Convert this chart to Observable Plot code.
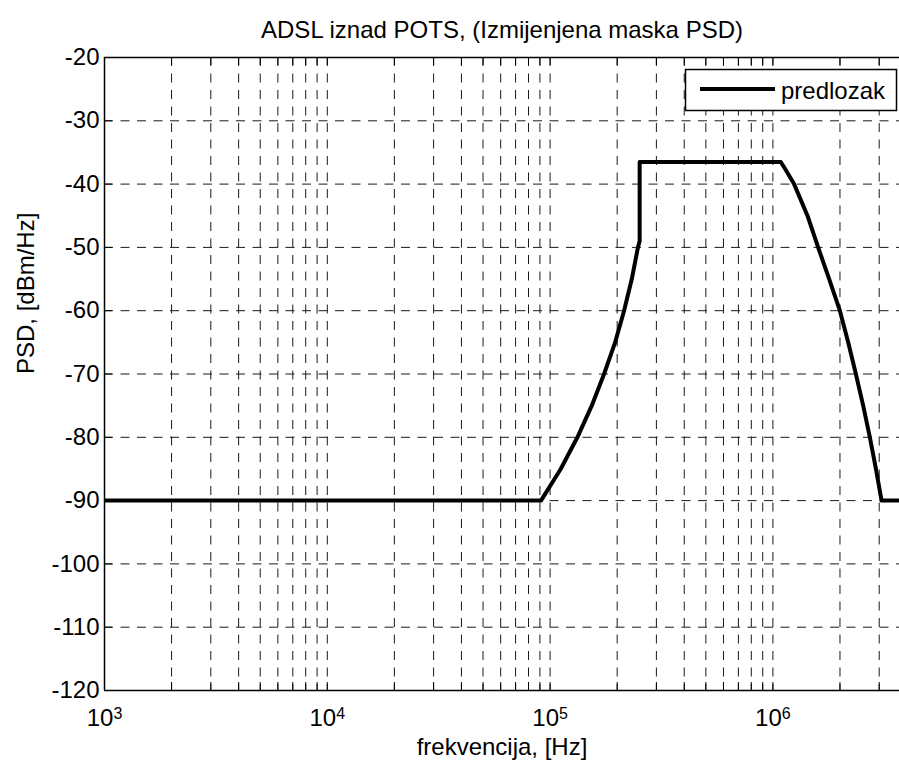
<!DOCTYPE html>
<html>
<head>
<meta charset="utf-8">
<script src="https://cdn.jsdelivr.net/npm/d3@7"></script>
<script src="https://cdn.jsdelivr.net/npm/@observablehq/plot@0.6"></script>
<style>
  html, body { margin: 0; padding: 0; background: #fff; }
  #chart { width: 899px; height: 760px; }
</style>
</head>
<body>
<div id="chart"></div>
<script>
// ---- data ----
const freqHz = [1e3, 91e3, 111.6e3, 132.6e3, 153.8e3, 174.7e3, 195.8e3, 214.8e3, 232.6e3, 247.9e3, 252.3e3, 252.3e3,
                1.085e6, 1.13e6, 1.245e6, 1.43e6, 1.596e6, 1.789e6, 1.998e6, 2.177e6, 2.357e6, 2.542e6, 2.724e6, 2.9e6, 3.074e6, 3.7e6];
const psdDbm = [-90, -90, -85, -80, -75, -70, -65, -60, -55, -50, -49, -36.5,
                -36.5, -37.5, -40, -45, -50, -55, -60, -65, -70, -75, -80, -85, -90, -90];

const xMajorTicks = [1e3, 1e4, 1e5, 1e6];
const xMajorBase = "10";
const xMajorExponents = ["3", "4", "5", "6"];
const xGridTicks = [
  1e3, 2e3, 3e3, 4e3, 5e3, 6e3, 7e3, 8e3, 9e3,
  1e4, 2e4, 3e4, 4e4, 5e4, 6e4, 7e4, 8e4, 9e4,
  1e5, 2e5, 3e5, 4e5, 5e5, 6e5, 7e5, 8e5, 9e5,
  1e6, 2e6, 3e6
];
const yTicks = [-20, -30, -40, -50, -60, -70, -80, -90, -100, -110, -120];
const xDomain = [1e3, 3.7e6];
const yDomain = [-120, -20];

const titleText = "ADSL iznad POTS, (Izmijenjena maska PSD)";
const xLabelText = "frekvencija, [Hz]";
const yLabelText = "PSD, [dBm/Hz]";
const legendLabel = "predlozak";

// ---- layout ----
const W = 899, H = 760;
const mt = 57, mb = 70, ml = 104, mr = 0;
const fw = W - ml - mr, fh = H - mt - mb;
const font = "'Liberation Sans', Arial, Helvetica, sans-serif";
const dash = "9,7.5";
const tickLen = 8;

const data = freqHz.map((f, i) => ({f, p: psdDbm[i]}));

const chart = Plot.plot({
  width: W,
  height: H,
  marginTop: mt,
  marginBottom: mb,
  marginLeft: ml,
  marginRight: mr,
  style: {fontFamily: font, fontSize: "24px", background: "#fff", color: "#000", overflow: "visible"},
  x: {type: "log", domain: xDomain},
  y: {domain: yDomain},
  marks: [
    // dashed grid
    Plot.ruleX(xGridTicks, {stroke: "#1a1a1a", strokeWidth: 1, strokeDasharray: dash}),
    Plot.ruleY(yTicks, {stroke: "#1a1a1a", strokeWidth: 1, strokeDasharray: dash}),
    // inward ticks
    Plot.tickX(xGridTicks, {insetTop: fh - tickLen, stroke: "#000", strokeWidth: 1}),
    Plot.tickX(xGridTicks, {insetBottom: fh - tickLen, stroke: "#000", strokeWidth: 1}),
    Plot.tickY(yTicks, {insetRight: fw - tickLen, stroke: "#000", strokeWidth: 1}),
    // axis lines
    Plot.ruleX([xDomain[0]], {stroke: "#000", strokeWidth: 1.5}),
    Plot.ruleY(yDomain, {stroke: "#000", strokeWidth: 1.5}),
    // the mask
    Plot.line(data, {x: "f", y: "p", stroke: "#000", strokeWidth: 4, strokeLinejoin: "round", strokeLinecap: "butt"}),
    // axes labels
    Plot.axisX({ticks: xMajorTicks, tickSize: 0, tickPadding: 18, tickFormat: () => xMajorBase, label: null, fontSize: 24}),
    Plot.axisY({ticks: yTicks, tickSize: 0, tickPadding: 5, tickFormat: d => String(d), label: null, fontSize: 24}),
    // title and axis titles
    Plot.text([titleText], {frameAnchor: "top", lineAnchor: "bottom", dy: -20, fontSize: 24}),
    Plot.text([xLabelText], {frameAnchor: "bottom", lineAnchor: "bottom", dy: 64, fontSize: 24}),
    Plot.text([yLabelText], {frameAnchor: "left", lineAnchor: "bottom", rotate: -90, dx: -71, fontSize: 24})
  ]
});

document.getElementById("chart").appendChild(chart);

// superscript exponents on the x tick labels
const svg = d3.select(chart);
svg.selectAll('g[aria-label="x-axis tick label"] text').each(function(d, i) {
  d3.select(this).append("tspan")
    .attr("dy", "-0.4em")
    .attr("font-size", "16px")
    .text(xMajorExponents[i]);
});

// legend box (top-right inside the frame)
const legW = 211, legH = 41;
const legX = ml + fw - 3 - legW, legY = mt + 12;
const lg = svg.append("g").attr("aria-label", "legend");
lg.append("rect")
  .attr("x", legX + 0.5).attr("y", legY + 0.5)
  .attr("width", legW).attr("height", legH)
  .attr("fill", "#fff").attr("stroke", "#000").attr("stroke-width", 1.5);
lg.append("line")
  .attr("x1", legX + 15).attr("x2", legX + 90)
  .attr("y1", legY + 20).attr("y2", legY + 20)
  .attr("stroke", "#000").attr("stroke-width", 4);
lg.append("text")
  .attr("x", legX + 96).attr("y", legY + 30)
  .attr("text-anchor", "start")
  .attr("font-family", font).attr("font-size", 24).attr("fill", "#000")
  .text(legendLabel);
</script>
</body>
</html>
